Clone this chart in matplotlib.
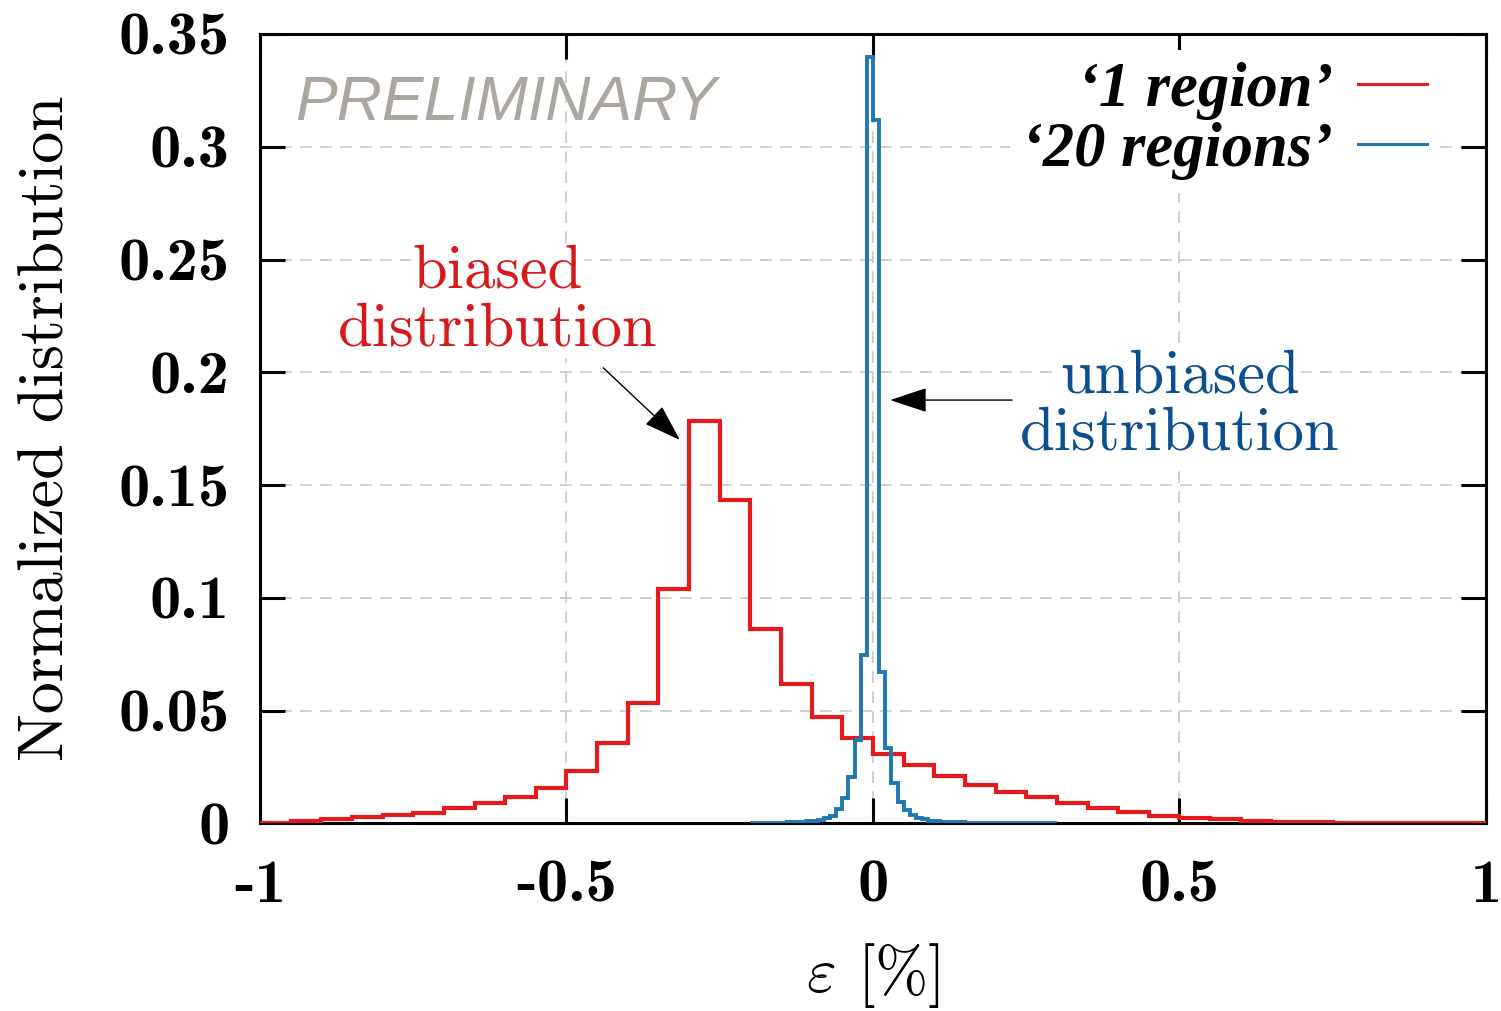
import numpy as np
import matplotlib
matplotlib.use("Agg")
import matplotlib.pyplot as plt
from matplotlib.lines import Line2D

# normalized distributions
# '1 region' : bins of 0.05 from -1 to 1
red_edges = np.linspace(-1.0, 1.0, 41)
red_vals = [0.0004, 0.0013, 0.0020, 0.0029, 0.0038, 0.0047, 0.0067, 0.0090,
            0.0119, 0.0159, 0.0233, 0.0358, 0.0533, 0.1038, 0.1786, 0.1434,
            0.0861, 0.0617, 0.0474, 0.0380, 0.0310, 0.0259, 0.0210, 0.0172,
            0.0141, 0.0116, 0.0092, 0.0070, 0.0051, 0.0035, 0.0026, 0.0018,
            0.0011, 0.0008, 0.0006, 0.0004, 0.0003, 0.0002, 0.0001, 0.0001]

# '20 regions' : bins of 0.01 from -0.2 to 0.3 (zero outside)
blue_edges = np.linspace(-0.2, 0.3, 51)
blue_vals = [0.0002, 0.0002, 0.0003, 0.0003, 0.0004, 0.0004, 0.0005, 0.0006,
             0.0008, 0.0010, 0.0012, 0.0016, 0.0023, 0.0033, 0.0063, 0.0112,
             0.0207, 0.0370, 0.0747, 0.3400, 0.3120, 0.0673, 0.0333, 0.0178,
             0.0097, 0.0060, 0.0038, 0.0025, 0.0018, 0.0013, 0.0010, 0.0008,
             0.0007, 0.0006, 0.0005, 0.0004, 0.0004, 0.0003, 0.0003, 0.0003,
             0.0002, 0.0002, 0.0002, 0.0002, 0.0001, 0.0001, 0.0001, 0.0001,
             0.0001, 0.0001]

xticks = [-1, -0.5, 0, 0.5, 1]
xticklabels = ["-1", "-0.5", "0", "0.5", "1"]
yticks = [0, 0.05, 0.1, 0.15, 0.2, 0.25, 0.3, 0.35]
yticklabels = ["0", "0.05", "0.1", "0.15", "0.2", "0.25", "0.3", "0.35"]

RED = "#e41a1c"
BLUE = "#1f78b4"
RED_TXT = "#d7191c"
BLUE_TXT = "#0c4f8f"

plt.rcParams["mathtext.fontset"] = "cm"
plt.rcParams["axes.unicode_minus"] = False

fig = plt.figure(figsize=(15.01, 10.11), dpi=100)
ax = fig.add_axes([0.1732, 0.1855, 0.8168, 0.7809])

ax.stairs(red_vals, red_edges, color=RED, lw=3.0, zorder=3)
ax.stairs(blue_vals, blue_edges, color=BLUE, lw=2.8, zorder=4)

ax.set_xlim(-1, 1)
ax.set_ylim(0, 0.35)
ax.set_xticks(xticks)
ax.set_xticklabels(xticklabels, family="cmb10", fontsize=45)
ax.set_yticks(yticks)
ax.set_yticklabels(yticklabels, family="cmb10", fontsize=45)
ax.tick_params(direction="in", length=18, width=2.2, top=True, right=True)
ax.tick_params(axis="x", pad=26)
ax.tick_params(axis="y", pad=22)
for s in ax.spines.values():
    s.set_linewidth(2.2)

ax.set_axisbelow(True)
ax.grid(color="#c8c8c8", linestyle=(0, (7, 5)), lw=1.2)

ax.set_ylabel("Normalized distribution", family="cmr10", fontsize=46, labelpad=30)
ax.set_xlabel(r"$\varepsilon$ [%]", family="cmr10", fontsize=46, labelpad=20)

ax.text(-0.943, 0.3119, "PRELIMINARY", family="Liberation Sans", style="italic",
        fontsize=45, color="#aba69f", va="baseline")

wbox = dict(facecolor="white", edgecolor="none", pad=1)
ax.text(-0.612, 0.2374, "biased", family="cmr10", fontsize=45, color=RED_TXT,
        ha="center", va="baseline", bbox=wbox, zorder=5)
ax.text(-0.612, 0.2121, "distribution", family="cmr10", fontsize=45, color=RED_TXT,
        ha="center", va="baseline", bbox=wbox, zorder=5)
ax.text(0.501, 0.1909, "unbiased", family="cmr10", fontsize=45, color=BLUE_TXT,
        ha="center", va="baseline", bbox=wbox, zorder=5)
ax.text(0.501, 0.1656, "distribution", family="cmr10", fontsize=45, color=BLUE_TXT,
        ha="center", va="baseline", bbox=wbox, zorder=5)

arrow = dict(arrowstyle="-|>,head_length=2.35,head_width=0.78", color="black", lw=1.0,
             shrinkA=0, shrinkB=0)
ax.annotate("", xy=(-0.315, 0.170), xytext=(-0.44, 0.202), arrowprops=arrow, zorder=6)
ax.annotate("", xy=(0.028, 0.1877), xytext=(0.227, 0.1877), arrowprops=arrow, zorder=6)

handles = [Line2D([], [], color=RED, lw=2.2), Line2D([], [], color=BLUE, lw=2.2)]
labels = ["\u20181 region\u2019", "\u201820 regions\u2019"]
leg = ax.legend(handles, labels, loc="upper right", bbox_to_anchor=(0.962, 0.98),
                markerfirst=False,
                prop=dict(family="Liberation Serif", style="italic", weight="bold", size=45),
                handlelength=1.1, handletextpad=0.4, labelspacing=0.03,
                borderaxespad=0, borderpad=0.2, frameon=True, fancybox=False)
leg.get_frame().set_facecolor("white")
leg.get_frame().set_edgecolor("none")
leg.get_frame().set_alpha(1)
for t in leg.get_texts():
    t.set_ha("right")

fig.savefig("out.png", dpi=100)
